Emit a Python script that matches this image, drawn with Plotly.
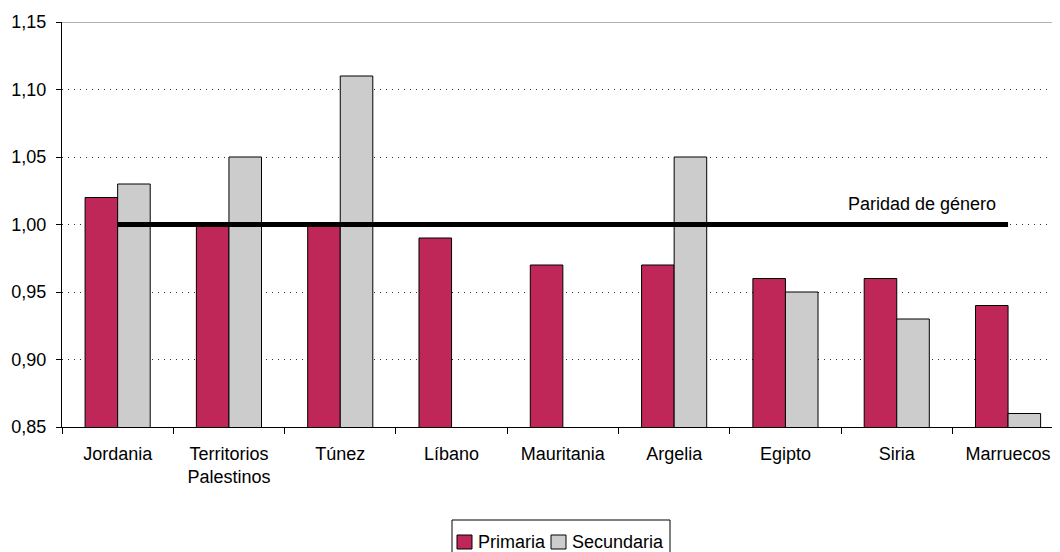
import plotly.graph_objects as go

categories = ["Jordania", "Territorios<br>Palestinos", "Túnez", "Líbano", "Mauritania",
              "Argelia", "Egipto", "Siria", "Marruecos"]
primaria = [1.02, 1.00, 1.00, 0.99, 0.97, 0.97, 0.96, 0.96, 0.94]
secundaria = [1.03, 1.05, 1.11, None, None, 1.05, 0.95, 0.93, 0.86]
series_names = ["Primaria", "Secundaria"]
series_colors = ["#BE2758", "#CCCCCC"]
parity = 1.00
parity_label = "Paridad de género"
y_ticks = [0.85, 0.90, 0.95, 1.00, 1.05, 1.10, 1.15]

FONT = "Liberation Sans, Arial, sans-serif"

# figure geometry (page has 8px body margin)
W, H = 1052, 544
ML, MR, MT, MB = 54, 0, 14, 125
PW, PH = W - ML - MR, H - MT - MB
CAT_W = 111.3  # category width in the reference, the plot runs past the right edge


def px_x(x):  # page pixel -> paper x
    return (x - 8 - ML) / PW


def px_y(y):  # page pixel -> paper y
    return 1 - (y - 8 - MT) / PH


fig = go.Figure()
fig.add_trace(go.Bar(x=categories, y=primaria, name=series_names[0], base=0,
                     marker=dict(color=series_colors[0], line=dict(color="black", width=1))))
fig.add_trace(go.Bar(x=categories, y=secundaria, name=series_names[1], base=0,
                     marker=dict(color=series_colors[1], line=dict(color="black", width=1))))
fig.add_trace(go.Scatter(x=[categories[0], categories[-1]], y=[parity, parity], mode="lines",
                         line=dict(color="black", width=5), showlegend=False, hoverinfo="skip"))

fig.add_annotation(x=categories[-1], y=parity, text=parity_label, showarrow=False,
                   xanchor="right", yanchor="bottom", xshift=-10, yshift=9,
                   font=dict(family=FONT, size=18, color="black"))

fig.add_shape(type="line", xref="paper", yref="y", x0=0, x1=1, y0=1.15, y1=1.15,
              line=dict(color="#999999", width=1.5), layer="below")

# manual legend (box cut by the bottom edge as in the reference)
fig.add_shape(type="rect", xref="paper", yref="paper",
              x0=px_x(452), x1=px_x(670), y0=px_y(560), y1=px_y(520),
              line=dict(color="black", width=1), fillcolor="white")
sq = [(457, 472, 476), (551, 566, 570)]
for (sx0, sx1, tx), name, col in zip(sq, series_names, series_colors):
    fig.add_shape(type="rect", xref="paper", yref="paper",
                  x0=px_x(sx0), x1=px_x(sx1), y0=px_y(549), y1=px_y(535),
                  line=dict(color="black", width=1), fillcolor=col)
    fig.add_annotation(xref="paper", yref="paper", x=px_x(tx), y=px_y(541.5),
                       text=name, showarrow=False, xanchor="left", yanchor="middle",
                       font=dict(family=FONT, size=18, color="black"))

fig.update_layout(
    width=W, height=H,
    margin=dict(l=ML, r=MR, t=MT, b=MB, autoexpand=False),
    paper_bgcolor="white", plot_bgcolor="white",
    barmode="group", bargap=0.415, bargroupgap=0,
    separators=",.",
    font=dict(family=FONT, size=18, color="black"),
    showlegend=False,
)
fig.update_xaxes(type="category", range=[-0.5, -0.5 + PW / CAT_W],
                 showline=True, linecolor="black", linewidth=1,
                 ticks="outside", tickson="boundaries", ticklen=6, tickcolor="black",
                 showgrid=False, tickfont=dict(size=18), automargin=False,
                 ticklabelstandoff=10)
fig.update_yaxes(range=[0.85, 1.15], tickvals=y_ticks, tickformat=".2f",
                 showline=True, linecolor="black", linewidth=1, ticks="outside",
                 ticklen=5, tickcolor="black", showgrid=True, gridcolor="#333333",
                 griddash="1px,5px", gridwidth=1, zeroline=False, tickfont=dict(size=18),
                 automargin=False, ticklabelstandoff=6)

fig.write_html("out.html")
